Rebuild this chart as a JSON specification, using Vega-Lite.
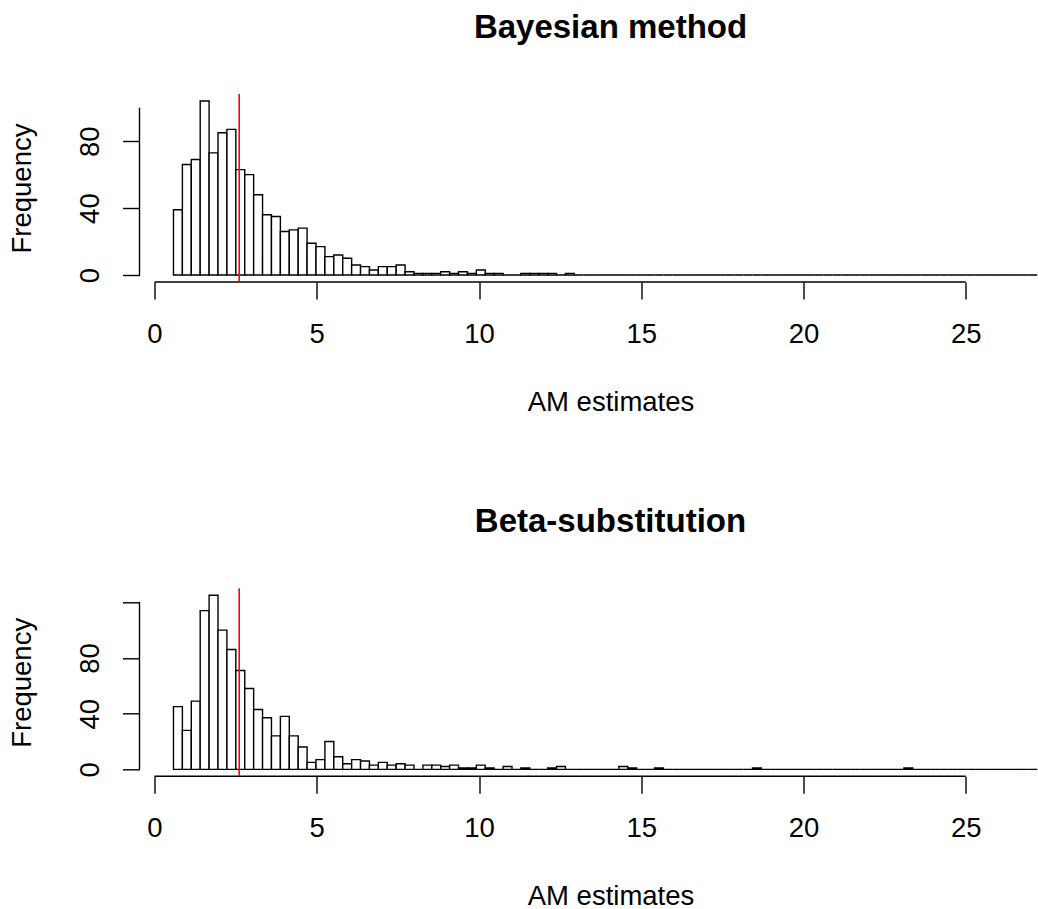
{
  "$schema": "https://vega.github.io/schema/vega-lite/v6.json",
  "background": "white",
  "padding": {"left": 7.5, "top": 11, "right": 0, "bottom": 0},
  "config": {
    "view": {"stroke": null},
    "font": "Liberation Sans",
    "axis": {"grid": false, "domain": false, "tickColor": "black", "tickWidth": 1.4, "tickSize": 17, "labelColor": "black", "titleColor": "black", "labelFontSize": 27.5, "titleFontSize": 27.5, "titleFontWeight": "normal", "labelFont": "Liberation Sans", "titleFont": "Liberation Sans"}
  },
  "bounds": "flush",
  "spacing": 306.3,
  "datasets": {
    "bayes": [
      {"x0":0.585,"x1":0.8595,"n":39},{"x0":0.8595,"x1":1.134,"n":66},{"x0":1.134,"x1":1.4085,"n":69},{"x0":1.4085,"x1":1.683,"n":104},{"x0":1.683,"x1":1.9575,"n":73},
      {"x0":1.9575,"x1":2.232,"n":85},{"x0":2.232,"x1":2.5065,"n":87},{"x0":2.5065,"x1":2.781,"n":63},{"x0":2.781,"x1":3.0555,"n":60},{"x0":3.0555,"x1":3.33,"n":48},
      {"x0":3.33,"x1":3.6045,"n":36},{"x0":3.6045,"x1":3.879,"n":35},{"x0":3.879,"x1":4.1535,"n":26},{"x0":4.1535,"x1":4.428,"n":27},{"x0":4.428,"x1":4.7025,"n":28},
      {"x0":4.7025,"x1":4.977,"n":19},{"x0":4.977,"x1":5.2515,"n":17},{"x0":5.2515,"x1":5.526,"n":11},{"x0":5.526,"x1":5.8005,"n":12},{"x0":5.8005,"x1":6.075,"n":10},
      {"x0":6.075,"x1":6.3495,"n":6},{"x0":6.3495,"x1":6.624,"n":5},{"x0":6.624,"x1":6.8985,"n":3},{"x0":6.8985,"x1":7.173,"n":5},{"x0":7.173,"x1":7.4475,"n":5},
      {"x0":7.4475,"x1":7.722,"n":6},{"x0":7.722,"x1":7.9965,"n":2},{"x0":7.9965,"x1":8.271,"n":1},{"x0":8.271,"x1":8.5455,"n":1},{"x0":8.5455,"x1":8.82,"n":1},
      {"x0":8.82,"x1":9.0945,"n":2},{"x0":9.0945,"x1":9.369,"n":1},{"x0":9.369,"x1":9.6435,"n":2},{"x0":9.6435,"x1":9.918,"n":1},{"x0":9.918,"x1":10.1925,"n":3},
      {"x0":10.1925,"x1":10.467,"n":1},{"x0":10.467,"x1":10.7415,"n":1},{"x0":10.7415,"x1":11.016,"n":0},{"x0":11.016,"x1":11.2905,"n":0},{"x0":11.2905,"x1":11.565,"n":1},
      {"x0":11.565,"x1":11.8395,"n":1},{"x0":11.8395,"x1":12.114,"n":1},{"x0":12.114,"x1":12.3885,"n":1},{"x0":12.3885,"x1":12.663,"n":0},{"x0":12.663,"x1":12.9375,"n":1},
      {"x0":12.9375,"x1":13.212,"n":0},{"x0":13.212,"x1":13.4865,"n":0},{"x0":13.4865,"x1":13.761,"n":0},{"x0":13.761,"x1":14.0355,"n":0},{"x0":14.0355,"x1":14.31,"n":0},
      {"x0":14.31,"x1":14.5845,"n":0},{"x0":14.5845,"x1":14.859,"n":0},{"x0":14.859,"x1":15.1335,"n":0},{"x0":15.1335,"x1":15.408,"n":0},{"x0":15.408,"x1":15.6825,"n":0},
      {"x0":15.6825,"x1":15.957,"n":0},{"x0":15.957,"x1":16.2315,"n":0},{"x0":16.2315,"x1":16.506,"n":0},{"x0":16.506,"x1":16.7805,"n":0},{"x0":16.7805,"x1":17.055,"n":0},
      {"x0":17.055,"x1":17.3295,"n":0},{"x0":17.3295,"x1":17.604,"n":0},{"x0":17.604,"x1":17.8785,"n":0},{"x0":17.8785,"x1":18.153,"n":0},{"x0":18.153,"x1":18.4275,"n":0},
      {"x0":18.4275,"x1":18.702,"n":0},{"x0":18.702,"x1":18.9765,"n":0},{"x0":18.9765,"x1":19.251,"n":0},{"x0":19.251,"x1":19.5255,"n":0},{"x0":19.5255,"x1":19.8,"n":0},
      {"x0":19.8,"x1":20.0745,"n":0},{"x0":20.0745,"x1":20.349,"n":0},{"x0":20.349,"x1":20.6235,"n":0},{"x0":20.6235,"x1":20.898,"n":0},{"x0":20.898,"x1":21.1725,"n":0},
      {"x0":21.1725,"x1":21.447,"n":0},{"x0":21.447,"x1":21.7215,"n":0},{"x0":21.7215,"x1":21.996,"n":0},{"x0":21.996,"x1":22.2705,"n":0},{"x0":22.2705,"x1":22.545,"n":0},
      {"x0":22.545,"x1":22.8195,"n":0},{"x0":22.8195,"x1":23.094,"n":0},{"x0":23.094,"x1":23.3685,"n":0},{"x0":23.3685,"x1":23.643,"n":0},{"x0":23.643,"x1":23.9175,"n":0},
      {"x0":23.9175,"x1":24.192,"n":0},{"x0":24.192,"x1":24.4665,"n":0},{"x0":24.4665,"x1":24.741,"n":0},{"x0":24.741,"x1":25.0155,"n":0},{"x0":25.0155,"x1":25.29,"n":0},
      {"x0":25.29,"x1":25.5645,"n":0},{"x0":25.5645,"x1":25.839,"n":0},{"x0":25.839,"x1":26.1135,"n":0},{"x0":26.1135,"x1":26.388,"n":0},{"x0":26.388,"x1":26.6625,"n":0},
      {"x0":26.6625,"x1":26.937,"n":0},{"x0":26.937,"x1":27.2115,"n":0}
    ],
    "beta": [
      {"x0":0.585,"x1":0.8595,"n":45},{"x0":0.8595,"x1":1.134,"n":28},{"x0":1.134,"x1":1.4085,"n":49},{"x0":1.4085,"x1":1.683,"n":114},{"x0":1.683,"x1":1.9575,"n":125},
      {"x0":1.9575,"x1":2.232,"n":100},{"x0":2.232,"x1":2.5065,"n":86},{"x0":2.5065,"x1":2.781,"n":71},{"x0":2.781,"x1":3.0555,"n":58},{"x0":3.0555,"x1":3.33,"n":43},
      {"x0":3.33,"x1":3.6045,"n":37},{"x0":3.6045,"x1":3.879,"n":24},{"x0":3.879,"x1":4.1535,"n":38},{"x0":4.1535,"x1":4.428,"n":24},{"x0":4.428,"x1":4.7025,"n":16},
      {"x0":4.7025,"x1":4.977,"n":5},{"x0":4.977,"x1":5.2515,"n":7},{"x0":5.2515,"x1":5.526,"n":20},{"x0":5.526,"x1":5.8005,"n":9},{"x0":5.8005,"x1":6.075,"n":4},
      {"x0":6.075,"x1":6.3495,"n":7},{"x0":6.3495,"x1":6.624,"n":6},{"x0":6.624,"x1":6.8985,"n":3},{"x0":6.8985,"x1":7.173,"n":5},{"x0":7.173,"x1":7.4475,"n":3},
      {"x0":7.4475,"x1":7.722,"n":4},{"x0":7.722,"x1":7.9965,"n":3},{"x0":7.9965,"x1":8.271,"n":0},{"x0":8.271,"x1":8.5455,"n":3},{"x0":8.5455,"x1":8.82,"n":3},
      {"x0":8.82,"x1":9.0945,"n":2},{"x0":9.0945,"x1":9.369,"n":3},{"x0":9.369,"x1":9.6435,"n":1},{"x0":9.6435,"x1":9.918,"n":1},{"x0":9.918,"x1":10.1925,"n":3},
      {"x0":10.1925,"x1":10.467,"n":1},{"x0":10.467,"x1":10.7415,"n":0},{"x0":10.7415,"x1":11.016,"n":2},{"x0":11.016,"x1":11.2905,"n":0},{"x0":11.2905,"x1":11.565,"n":1},
      {"x0":11.565,"x1":11.8395,"n":0},{"x0":11.8395,"x1":12.114,"n":0},{"x0":12.114,"x1":12.3885,"n":1},{"x0":12.3885,"x1":12.663,"n":2},{"x0":12.663,"x1":12.9375,"n":0},
      {"x0":12.9375,"x1":13.212,"n":0},{"x0":13.212,"x1":13.4865,"n":0},{"x0":13.4865,"x1":13.761,"n":0},{"x0":13.761,"x1":14.0355,"n":0},{"x0":14.0355,"x1":14.31,"n":0},
      {"x0":14.31,"x1":14.5845,"n":2},{"x0":14.5845,"x1":14.859,"n":1},{"x0":14.859,"x1":15.1335,"n":0},{"x0":15.1335,"x1":15.408,"n":0},{"x0":15.408,"x1":15.6825,"n":1},
      {"x0":15.6825,"x1":15.957,"n":0},{"x0":15.957,"x1":16.2315,"n":0},{"x0":16.2315,"x1":16.506,"n":0},{"x0":16.506,"x1":16.7805,"n":0},{"x0":16.7805,"x1":17.055,"n":0},
      {"x0":17.055,"x1":17.3295,"n":0},{"x0":17.3295,"x1":17.604,"n":0},{"x0":17.604,"x1":17.8785,"n":0},{"x0":17.8785,"x1":18.153,"n":0},{"x0":18.153,"x1":18.4275,"n":0},
      {"x0":18.4275,"x1":18.702,"n":1},{"x0":18.702,"x1":18.9765,"n":0},{"x0":18.9765,"x1":19.251,"n":0},{"x0":19.251,"x1":19.5255,"n":0},{"x0":19.5255,"x1":19.8,"n":0},
      {"x0":19.8,"x1":20.0745,"n":0},{"x0":20.0745,"x1":20.349,"n":0},{"x0":20.349,"x1":20.6235,"n":0},{"x0":20.6235,"x1":20.898,"n":0},{"x0":20.898,"x1":21.1725,"n":0},
      {"x0":21.1725,"x1":21.447,"n":0},{"x0":21.447,"x1":21.7215,"n":0},{"x0":21.7215,"x1":21.996,"n":0},{"x0":21.996,"x1":22.2705,"n":0},{"x0":22.2705,"x1":22.545,"n":0},
      {"x0":22.545,"x1":22.8195,"n":0},{"x0":22.8195,"x1":23.094,"n":0},{"x0":23.094,"x1":23.3685,"n":1},{"x0":23.3685,"x1":23.643,"n":0},{"x0":23.643,"x1":23.9175,"n":0},
      {"x0":23.9175,"x1":24.192,"n":0},{"x0":24.192,"x1":24.4665,"n":0},{"x0":24.4665,"x1":24.741,"n":0},{"x0":24.741,"x1":25.0155,"n":0},{"x0":25.0155,"x1":25.29,"n":0},
      {"x0":25.29,"x1":25.5645,"n":0},{"x0":25.5645,"x1":25.839,"n":0},{"x0":25.839,"x1":26.1135,"n":0},{"x0":26.1135,"x1":26.388,"n":0},{"x0":26.388,"x1":26.6625,"n":0},
      {"x0":26.6625,"x1":26.937,"n":0},{"x0":26.937,"x1":27.2115,"n":0}
    ]
  },
  "vconcat": [
    {
      "width": 898,
      "height": 188,
      "title": {"text": "Bayesian method", "fontSize": 33, "fontWeight": "bold", "color": "black", "font": "Liberation Sans", "anchor": "middle", "dx": 22, "baseline": "alphabetic", "offset": 22.7},
      "layer": [
        {
          "data": {"name": "bayes"},
          "mark": {"type": "rect", "fill": "white", "stroke": "black", "strokeWidth": 1.4, "clip": true},
          "encoding": {
            "x": {"field": "x0", "type": "quantitative", "scale": {"domain": [-0.462, 27.21], "nice": false, "zero": false},
                  "axis": {"values": [0, 5, 10, 15, 20, 25], "title": "AM estimates", "labelPadding": 43, "labelBaseline": "alphabetic", "labelAlign": "center", "labelFlush": false, "titleX": 471, "titleY": 128, "titleAlign": "center", "titleBaseline": "alphabetic"}},
            "x2": {"field": "x1"},
            "y": {"field": "n", "type": "quantitative", "scale": {"domain": [-4.16, 108.16], "nice": false, "zero": false},
                  "axis": {"values": [0, 20, 40, 60, 80, 100], "title": "Frequency", "labelAngle": 270, "labelAlign": "center", "labelBaseline": "alphabetic", "labelPadding": 24.5, "labelFlush": false, "labelExpr": "datum.value === 0 || datum.value === 40 || datum.value === 80 ? datum.label : ''", "titleAngle": 270, "titleX": -109.4, "titleY": 94, "titleAlign": "center", "titleBaseline": "alphabetic"}},
            "y2": {"datum": 0}
          }
        },
        {"data": {"values": [{}]}, "mark": {"type": "rule", "color": "black", "strokeWidth": 1.4}, "encoding": {"x": {"datum": 0}, "x2": {"datum": 25}, "y": {"datum": -4.16}}},
        {"data": {"values": [{}]}, "mark": {"type": "rule", "color": "black", "strokeWidth": 1.4}, "encoding": {"x": {"datum": -0.462}, "y": {"datum": 0}, "y2": {"datum": 100}}},
        {"data": {"values": [{}]}, "mark": {"type": "rule", "color": "#ff0000", "strokeWidth": 1.6}, "encoding": {"x": {"datum": 2.61}}}
      ]
    },
    {
      "width": 898,
      "height": 188,
      "title": {"text": "Beta-substitution", "fontSize": 33, "fontWeight": "bold", "color": "black", "font": "Liberation Sans", "anchor": "middle", "dx": 22, "baseline": "alphabetic", "offset": 22.3},
      "layer": [
        {
          "data": {"name": "beta"},
          "mark": {"type": "rect", "fill": "white", "stroke": "black", "strokeWidth": 1.4, "clip": true},
          "encoding": {
            "x": {"field": "x0", "type": "quantitative", "scale": {"domain": [-0.462, 27.21], "nice": false, "zero": false},
                  "axis": {"values": [0, 5, 10, 15, 20, 25], "title": "AM estimates", "labelPadding": 43, "labelBaseline": "alphabetic", "labelAlign": "center", "labelFlush": false, "titleX": 471, "titleY": 128, "titleAlign": "center", "titleBaseline": "alphabetic"}},
            "x2": {"field": "x1"},
            "y": {"field": "n", "type": "quantitative", "scale": {"domain": [-5, 130], "nice": false, "zero": false},
                  "axis": {"values": [0, 20, 40, 60, 80, 100, 120], "title": "Frequency", "labelAngle": 270, "labelAlign": "center", "labelBaseline": "alphabetic", "labelPadding": 24.5, "labelFlush": false, "labelExpr": "datum.value === 0 || datum.value === 40 || datum.value === 80 ? datum.label : ''", "titleAngle": 270, "titleX": -109.4, "titleY": 94, "titleAlign": "center", "titleBaseline": "alphabetic"}},
            "y2": {"datum": 0}
          }
        },
        {"data": {"values": [{}]}, "mark": {"type": "rule", "color": "black", "strokeWidth": 1.4}, "encoding": {"x": {"datum": 0}, "x2": {"datum": 25}, "y": {"datum": -5}}},
        {"data": {"values": [{}]}, "mark": {"type": "rule", "color": "black", "strokeWidth": 1.4}, "encoding": {"x": {"datum": -0.462}, "y": {"datum": 0}, "y2": {"datum": 120}}},
        {"data": {"values": [{}]}, "mark": {"type": "rule", "color": "#ff0000", "strokeWidth": 1.6}, "encoding": {"x": {"datum": 2.61}}}
      ]
    }
  ]
}
